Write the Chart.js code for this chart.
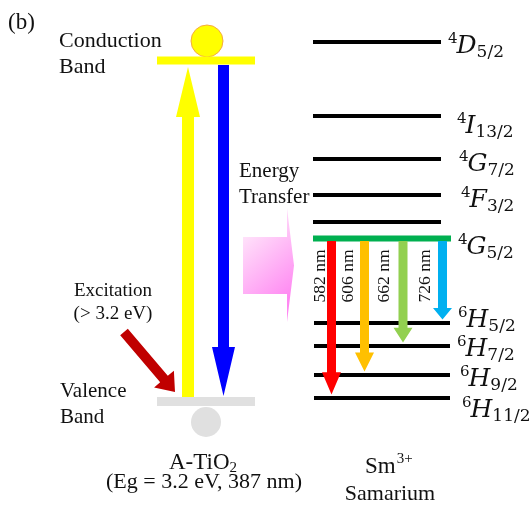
<!DOCTYPE html>
<html>
<head>
<meta charset="utf-8">
<script src="https://cdn.jsdelivr.net/npm/chart.js@4/dist/chart.umd.min.js"></script>
<style>
  html, body { margin: 0; padding: 0; background: #fff; }
</style>
</head>
<body>
<canvas id="chart" width="531" height="508"></canvas>
<script>
// Sm3+ energy levels (diagram energy units, 0 = bottom of picture)
const smLevels = ['4D5/2', '4I13/2', '4G7/2', '4F3/2', '', '4G5/2', '6H5/2', '6H7/2', '6H9/2', '6H11/2'];
const smEnergy = [466, 392, 349, 313, 286, 269.5, 185, 162, 133, 110];

// emissions out of 4G5/2
const emissionNm = [582, 606, 662, 726];
const emissionTo = ['6H11/2', '6H9/2', '6H7/2', '6H5/2'];
const emissionColors = ['#ff0000', '#ffc000', '#92d050', '#00b0f0'];

// A-TiO2 bands
const bandNames = ['Conduction', 'Valence'];
const bandEnergy = [447.5, 106.5];
const bandGapEv = 3.2;
const bandGapNm = 387;

// layout (x in canvas units, y in the same energy units as above)
const tio2X = [157, 255];
const smUpperX = [313, 441];
const smLowerX = [314, 450];
const emissionX = [331.5, 364.5, 403, 442.5];
const emissionLabelDx = [-7, -12, -14, -13];
const labelX = [448, 457, 459, 461, 0, 458, 458, 457, 460, 462];
const labelDy = [-11, -17, -12, -12, 0, -15, -4, -10, -11, -19];

const serif = '"Liberation Serif", "Times New Roman", serif';
const mathFont = '"DejaVu Serif", serif';
const emitterIdx = smLevels.indexOf('4G5/2');

const datasets = [];
smLevels.forEach((name, i) => {
    const xr = i < emitterIdx ? smUpperX : (i === emitterIdx ? [313, 451] : smLowerX);
    datasets.push({
        data: [{ x: xr[0], y: smEnergy[i] }, { x: xr[1], y: smEnergy[i] }],
        showLine: true,
        borderColor: i === emitterIdx ? '#00b050' : '#000000',
        borderWidth: i === emitterIdx ? 6 : 4,
        borderCapStyle: 'butt',
        pointRadius: 0
    });
});
bandNames.forEach((name, i) => {
    datasets.push({
        data: [{ x: tio2X[0], y: bandEnergy[i] }, { x: tio2X[1], y: bandEnergy[i] }],
        showLine: true,
        borderColor: i === 0 ? '#ffff00' : '#e0e0e0',
        borderWidth: i === 0 ? 8 : 9,
        borderCapStyle: 'butt',
        pointRadius: 0
    });
});
// electron and hole
datasets.push({
    data: [{ x: 207, y: bandEnergy[0] + 19.5 }],
    pointRadius: 16, backgroundColor: '#ffff00', borderColor: '#f4a940', borderWidth: 1
});
datasets.push({
    data: [{ x: 206, y: bandEnergy[1] - 20.5 }],
    pointRadius: 15, backgroundColor: '#e0e0e0', borderColor: '#e0e0e0', borderWidth: 0
});

function arrow(ctx, x1, y1, x2, y2, w, hl, hw, fill) {
    const len = Math.hypot(x2 - x1, y2 - y1);
    const ux = (x2 - x1) / len, uy = (y2 - y1) / len;
    const nx = -uy, ny = ux;
    const bx = x2 - ux * hl, by = y2 - uy * hl;
    ctx.beginPath();
    ctx.moveTo(x1 + nx * w / 2, y1 + ny * w / 2);
    ctx.lineTo(bx + nx * w / 2, by + ny * w / 2);
    ctx.lineTo(bx + nx * hw, by + ny * hw);
    ctx.lineTo(x2, y2);
    ctx.lineTo(bx - nx * hw, by - ny * hw);
    ctx.lineTo(bx - nx * w / 2, by - ny * w / 2);
    ctx.lineTo(x1 - nx * w / 2, y1 - ny * w / 2);
    ctx.closePath();
    ctx.fillStyle = fill;
    ctx.fill();
}

function levelLabel(ctx, name, x, y) {
    const sup = name[0], main = name[1], sub = name.slice(2);
    ctx.font = '15px ' + mathFont;
    ctx.fillText(sup, x, y - 10);
    let cx = x + ctx.measureText(sup).width - 1;
    ctx.font = 'italic 25px ' + mathFont;
    ctx.fillText(main, cx, y);
    cx += ctx.measureText(main).width;
    ctx.font = '17px ' + mathFont;
    ctx.fillText(sub, cx, y + 4);
}

const diagram = {
    id: 'diagram',
    afterDatasetsDraw(chart) {
        const ctx = chart.ctx;
        const sx = v => chart.scales.x.getPixelForValue(v);
        const sy = v => chart.scales.y.getPixelForValue(v);
        ctx.save();

        // excitation / recombination arrows in TiO2
        arrow(ctx, sx(188), sy(bandEnergy[1] + 4.5), sx(188), sy(bandEnergy[0] - 6.5), 12, 50, 12, '#ffff00');
        arrow(ctx, sx(223.5), sy(bandEnergy[0] - 4.5), sx(223.5), sy(bandEnergy[1] + 5.5), 11, 49, 11.5, '#0000ff');
        arrow(ctx, sx(124), sy(176), sx(175), sy(116), 10, 17, 13, '#c00000');

        // energy transfer block arrow
        const g = ctx.createLinearGradient(sx(243), sy(271), sx(294), sy(214));
        g.addColorStop(0, '#ffe2fa');
        g.addColorStop(1, '#ff88f2');
        ctx.beginPath();
        ctx.moveTo(sx(243), sy(271));
        ctx.lineTo(sx(287), sy(271));
        ctx.lineTo(sx(287), sy(300));
        ctx.lineTo(sx(294), sy(242.5));
        ctx.lineTo(sx(287), sy(186));
        ctx.lineTo(sx(287), sy(214));
        ctx.lineTo(sx(243), sy(214));
        ctx.closePath();
        ctx.fillStyle = g;
        ctx.fill();

        // Sm3+ emissions
        const top = smEnergy[emitterIdx] - 2.5;
        emissionNm.forEach((nm, i) => {
            const end = smEnergy[smLevels.indexOf(emissionTo[i])] + 3.5;
            const y1 = sy(top), y2 = sy(end);
            arrow(ctx, sx(emissionX[i]), y1, sx(emissionX[i]), y2, 9, 0.145 * (y2 - y1), 9.5, emissionColors[i]);
            ctx.save();
            ctx.translate(sx(emissionX[i] + emissionLabelDx[i]), sy(232));
            ctx.rotate(-Math.PI / 2);
            ctx.font = '17.5px ' + serif;
            ctx.fillStyle = '#111';
            ctx.textAlign = 'center';
            ctx.textBaseline = 'alphabetic';
            ctx.fillText(nm + ' nm', 0, 0);
            ctx.restore();
        });

        // level labels
        ctx.fillStyle = '#111';
        ctx.textAlign = 'left';
        ctx.textBaseline = 'alphabetic';
        smLevels.forEach((name, i) => {
            if (name) levelLabel(ctx, name, sx(labelX[i]), sy(smEnergy[i] + labelDy[i]));
        });

        // plain texts
        const text = (s, x, y, size, align) => {
            ctx.font = size + 'px ' + serif;
            ctx.textAlign = align || 'left';
            ctx.fillText(s, sx(x), sy(y));
        };
        text('(b)', 8, 479, 23);
        text(bandNames[0], 59, 461, 22);
        text('Band', 59, 435, 22);
        text(bandNames[1], 60, 111, 21);
        text('Band', 60, 85, 21);
        text('Energy', 239, 331, 21);
        text('Transfer', 239, 305, 21);
        text('Excitation', 113, 212, 19, 'center');
        text('(> ' + bandGapEv + ' eV)', 113, 189, 19, 'center');
        text('(Eg = ' + bandGapEv + ' eV, ' + bandGapNm + ' nm)', 204, 20, 22, 'center');
        text('Samarium', 390, 8, 22, 'center');

        // A-TiO2 with subscript
        ctx.textAlign = 'left';
        ctx.font = '23px ' + serif;
        const w1 = ctx.measureText('A-TiO').width;
        ctx.font = '15px ' + serif;
        const w2 = ctx.measureText('2').width;
        let x0 = sx(203) - (w1 + w2) / 2;
        ctx.font = '23px ' + serif;
        ctx.fillText('A-TiO', x0, sy(39));
        ctx.font = '15px ' + serif;
        ctx.fillText('2', x0 + w1, sy(36));

        // Sm3+
        ctx.font = '23px ' + serif;
        ctx.fillText('Sm', sx(365), sy(35));
        const ws = ctx.measureText('Sm').width;
        ctx.font = '15px ' + serif;
        ctx.fillText('3+', sx(365) + ws + 1, sy(45));

        ctx.restore();
    }
};

new Chart(document.getElementById('chart'), {
    type: 'scatter',
    data: { datasets: datasets },
    options: {
        responsive: false,
        animation: false,
        layout: { padding: 0, autoPadding: false },
        plugins: { legend: { display: false }, tooltip: { enabled: false } },
        scales: {
            x: { type: 'linear', min: 0, max: 531, display: false },
            y: { type: 'linear', min: 0, max: 508, display: false }
        }
    },
    plugins: [diagram]
});
</script>
</body>
</html>
